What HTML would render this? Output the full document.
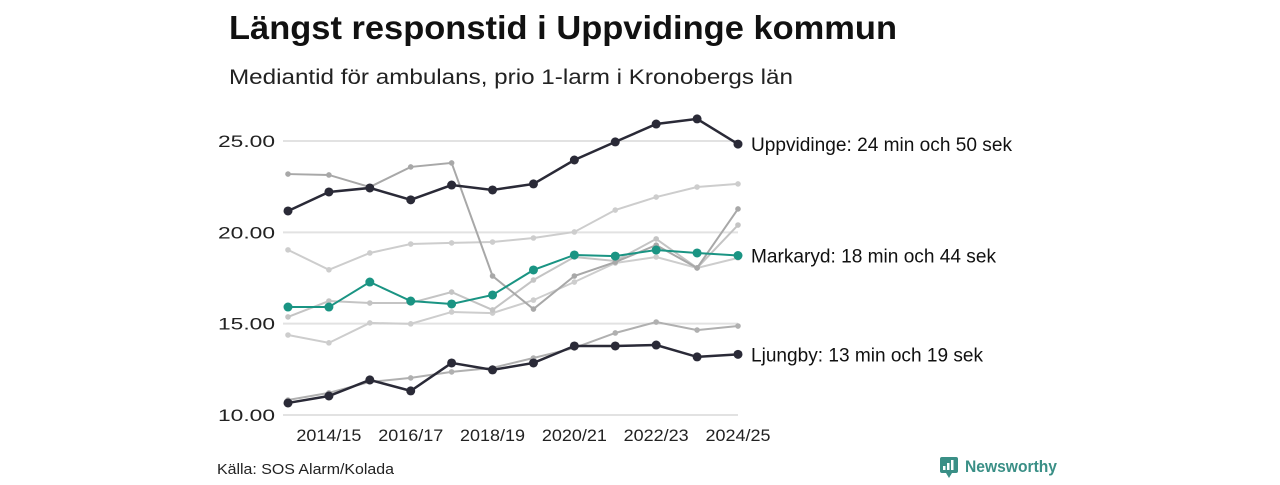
<!DOCTYPE html>
<html><head><meta charset="utf-8"><style>
body{margin:0;background:#fff;width:1280px;height:480px;overflow:hidden;font-family:"Liberation Sans",sans-serif}
</style></head><body>
<svg width="1280" height="480" id="svg">
<text x="229" y="39" font-size="33" font-weight="bold" fill="#111" textLength="668" lengthAdjust="spacingAndGlyphs">Längst responstid i Uppvidinge kommun</text>
<text x="229" y="84" font-size="21" fill="#222" textLength="564" lengthAdjust="spacingAndGlyphs">Mediantid för ambulans, prio 1-larm i Kronobergs län</text>
<g id="grid"></g><g id="lines"></g><g id="labels"></g>
<text x="217" y="474" font-size="15" fill="#222" textLength="177" lengthAdjust="spacingAndGlyphs">Källa: SOS Alarm/Kolada</text>
<g>
<rect x="940" y="457" width="18" height="16" rx="2" fill="#3a8f86"/><path d="M946 473 L949 478 L952 473Z" fill="#3a8f86"/>
<rect x="943" y="466" width="2.5" height="4" fill="#fff"/><rect x="947" y="463" width="2.5" height="7" fill="#fff"/><rect x="951" y="460" width="2.5" height="10" fill="#fff"/>
<text x="965" y="472" font-size="17" font-weight="bold" fill="#3a8f86" textLength="92" lengthAdjust="spacingAndGlyphs">Newsworthy</text></g>
</svg>
<script>
const years=["2013/14","2014/15","2015/16","2016/17","2017/18","2018/19","2019/20","2020/21","2021/22","2022/23","2023/24","2024/25"];
const tickLabels=["2014/15","2016/17","2018/19","2020/21","2022/23","2024/25"];
const yTicks=[10,15,20,25];
const grey1=[23.19,23.14,22.48,23.58,23.8,17.61,15.8,17.61,18.37,19.3,18.05,21.28];
const grey2=[19.04,17.95,18.87,19.36,19.42,19.47,19.69,20.02,21.22,21.93,22.48,22.65];
const grey3=[15.37,16.24,16.13,16.13,16.73,15.75,17.39,18.65,18.43,19.64,18.05,20.4];
const grey4=[14.38,13.95,15.04,14.99,15.64,15.58,16.29,17.28,18.32,18.65,18.05,18.6];
const grey5=[10.82,11.21,11.81,12.03,12.36,12.58,13.12,13.67,14.49,15.09,14.65,14.87];
const uppvidinge=[21.17,22.21,22.43,21.78,22.59,22.32,22.65,23.96,24.95,25.93,26.21,24.83];
const markaryd=[15.91,15.91,17.28,16.24,16.08,16.57,17.94,18.76,18.7,19.03,18.87,18.73];
const ljungby=[10.66,11.04,11.92,11.32,12.85,12.47,12.85,13.78,13.78,13.83,13.18,13.32];
const NS="http://www.w3.org/2000/svg";
const x=i=>288+i*(738-288)/11;
const y=v=>415-(v-10)*(415-141)/15;
function mk(t,a,p){const e=document.createElementNS(NS,t);for(const k in a)e.setAttribute(k,a[k]);p.appendChild(e);return e;}
const grid=document.getElementById('grid'),lines=document.getElementById('lines'),labels=document.getElementById('labels');
yTicks.forEach(v=>{
 const l=mk('line',{x1:283,x2:738,y1:y(v),y2:y(v),stroke:'#e2e2e2','stroke-width':2},grid);
 
 
 const t=mk('text',{x:275,y:y(v)+6,'font-size':17,'text-anchor':'end',fill:'#222',textLength:57,lengthAdjust:'spacingAndGlyphs'},grid);t.textContent=v.toFixed(2);
 
 
});
tickLabels.forEach(s=>{const i=years.indexOf(s);
 const t=mk('text',{x:x(i),y:441,'font-size':17,'text-anchor':'middle',fill:'#222',textLength:65,lengthAdjust:'spacingAndGlyphs'},grid);t.textContent=s;
 
 
});
function series(d,col,w,r,name){
 const g=mk('g',{},lines);
 
 
 mk('polyline',{points:d.map((v,i)=>x(i)+','+y(v)).join(' '),fill:'none',stroke:col,'stroke-width':w},g);
 d.forEach((v,i)=>{const c=mk('circle',{cx:x(i),cy:y(v),r:r,fill:col},g);
  
  });
}
series(grey2,'#cdcdcd',2,2.8,'line-grey-2');
series(grey4,'#cdcdcd',2,2.8,'line-grey-4');
series(grey3,'#c4c4c4',2,2.8,'line-grey-3');
series(grey1,'#a8a8a8',2,2.8,'line-grey-1');
series(grey5,'#b0b0b0',2,2.8,'line-grey-5');
series(markaryd,'#1a9483',2,4.5,'line-markaryd');
series(uppvidinge,'#2a2a37',2.5,4.5,'line-uppvidinge');
series(ljungby,'#2a2a37',2.5,4.5,'line-ljungby');
[["Uppvidinge: 24 min och 50 sek",uppvidinge,261],["Markaryd: 18 min och 44 sek",markaryd,245],["Ljungby: 13 min och 19 sek",ljungby,232]].forEach(([s,d,w])=>{
 const t=mk('text',{x:751,y:y(d[11])+7,'font-size':19,fill:'#111',textLength:w,lengthAdjust:'spacingAndGlyphs'},labels);t.textContent=s;
 
 
});
</script>
</body></html>
